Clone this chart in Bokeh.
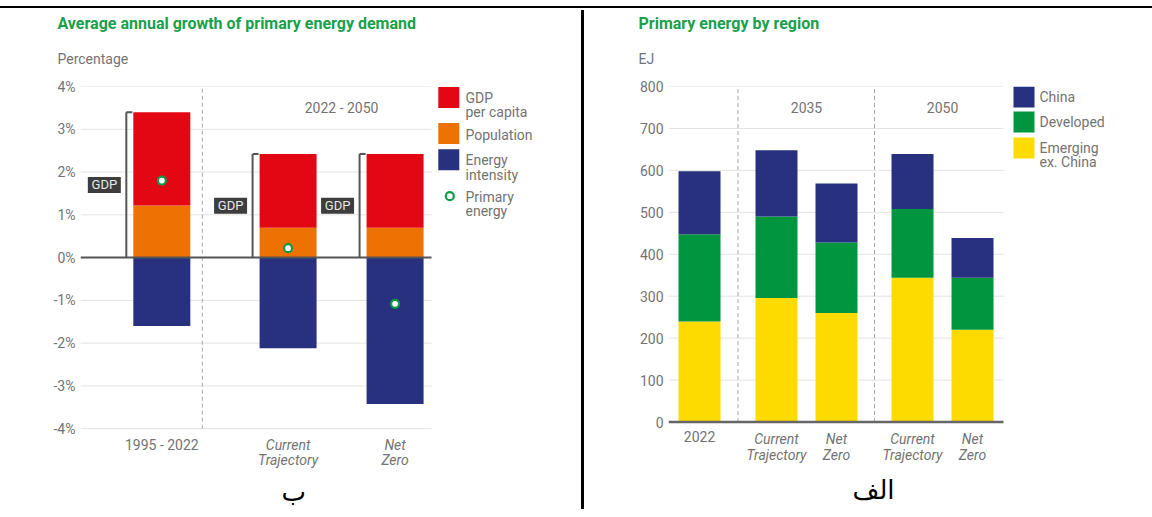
from bokeh.plotting import figure
from bokeh.models import Range1d, FixedTicker, Title, Div, Spacer
from bokeh.layouts import row, column
from bokeh.embed import file_html
from bokeh.resources import INLINE
from bokeh.core.properties import value

# ---------------- data ----------------
growth_periods = ["1995 - 2022", "Current\nTrajectory", "Net\nZero"]
gdp_per_capita = [2.18, 1.72, 1.72]
population = [1.22, 0.70, 0.70]
energy_intensity = [-1.60, -2.12, -3.42]
primary_energy = [1.80, 0.22, -1.08]
growth_ticks = [-4, -3, -2, -1, 0, 1, 2, 3, 4]
growth_tick_labels = ["-4%", "-3%", "-2%", "-1%", "0%", "1%", "2%", "3%", "4%"]
projection_label = "2022 - 2050"
growth_legend = ["GDP\nper capita", "Population", "Energy\nintensity", "Primary\nenergy"]

region_cases = ["2022", "Current\nTrajectory", "Net\nZero", "Current\nTrajectory", "Net\nZero"]
region_years = ["2035", "2050"]
emerging_ex_china = [240, 296, 260, 344, 220]
developed = [208, 194, 168, 164, 124]
china = [150, 158, 141, 131, 95]
region_ticks = [0, 100, 200, 300, 400, 500, 600, 700, 800]
region_legend = ["China", "Developed", "Emerging\nex. China"]

# ---------------- styles ----------------
RED = "#e30613"
ORANGE = "#ee7203"
NAVY = "#27317f"
GREEN = "#009640"
YELLOW = "#fedb00"
TITLE_GREEN = "#18a04a"
DOT_GREEN = "#0f9a47"
TXT = "#737373"
GRID = "#e3e3e3"
FONT = "Roboto"

def style_axes(p, ticks, labels, x_start, x_end):
    p.xaxis.visible = False
    p.xgrid.visible = False
    p.ygrid.visible = False
    p.segment(x0=[x_start] * len(ticks), y0=ticks, x1=[x_end] * len(ticks), y1=ticks,
              line_color=GRID, line_width=1, level="underlay")
    ax = p.yaxis[0]
    ax.ticker = FixedTicker(ticks=ticks)
    ax.major_label_overrides = {t: l for t, l in zip(ticks, labels)}
    ax.axis_line_color = None
    ax.major_tick_line_color = None
    ax.minor_tick_line_color = None
    ax.major_tick_in = 0
    ax.major_tick_out = 0
    ax.major_label_standoff = 5
    ax.major_label_text_font = FONT
    ax.major_label_text_font_size = "14px"
    ax.major_label_text_color = TXT
    p.outline_line_color = None
    p.background_fill_color = "white"
    p.border_fill_color = "white"

def add_titles(p, main, unit, offset, unit_standoff, main_standoff):
    p.add_layout(Title(text=unit, align="left", offset=offset, standoff=unit_standoff,
                       vertical_align="top",
                       text_font=FONT, text_font_size="14px", text_font_style="normal",
                       text_color=TXT), "above")
    p.add_layout(Title(text=main, align="left", offset=offset, standoff=main_standoff,
                       vertical_align="bottom",
                       text_font=FONT, text_font_size="16px", text_font_style="bold",
                       text_color=TITLE_GREEN), "above")

def add_caption(p, text, offset, standoff):
    p.add_layout(Title(text=text, align="left", offset=offset, standoff=standoff,
                       vertical_align="bottom",
                       text_font="DejaVu Sans", text_font_size="26px", text_font_style="normal",
                       text_color="black"), "below")

def add_labels(p, xs, texts, y, y_off):
    p.text(x=xs[:1], y=[y], text=texts[:1], y_offset=y_off, text_align="center",
           text_baseline="top", text_font=value(FONT), text_font_size="14px", text_color=TXT,
           text_line_height=0.98)
    p.text(x=xs[1:], y=[y] * (len(xs) - 1), text=texts[1:], y_offset=y_off, text_align="center",
           text_baseline="top", text_font=value(FONT), text_font_size="14px", text_color=TXT,
           text_font_style="italic", text_line_height=0.98)

def legend_text(p, xs, ys, texts):
    p.text(x=xs, y=ys, text=texts, text_align="left", text_baseline="top",
           text_font=value(FONT), text_font_size="14px", text_color=TXT, text_line_height=0.89)

# ---------------- left chart ----------------
L_FW, L_FH = 480, 385
L_UNIT = 107.0
L_PX_Y = 42.78           # pixels per percentage point
left_pos = [0.0, 1.18, 2.18]
lx0 = -0.76
lx1 = lx0 + L_FW / L_UNIT
l_plot_end = lx0 + 351 / L_UNIT
bw_l = 57 / L_UNIT
ltop = 4.0

def lpx(px):   # horizontal pixel offset from frame left -> data
    return lx0 + px / L_UNIT

def lpy(py):   # vertical pixel offset from frame top -> data
    return ltop - py / L_PX_Y

pl = figure(frame_width=L_FW, frame_height=L_FH,
            x_range=Range1d(lx0, lx1), y_range=Range1d(-5.0, ltop),
            min_border_left=72, min_border_right=21, min_border_top=76, min_border_bottom=38,
            output_backend="svg", toolbar_location=None)
style_axes(pl, growth_ticks, growth_tick_labels, lx0, l_plot_end)

gdp_total = [p + g for p, g in zip(population, gdp_per_capita)]
pl.vbar(x=left_pos, width=bw_l, bottom=0, top=population, fill_color=ORANGE, line_color=None)
pl.vbar(x=left_pos, width=bw_l, bottom=population, top=gdp_total, fill_color=RED, line_color=None)
pl.vbar(x=left_pos, width=bw_l, bottom=energy_intensity, top=0, fill_color=NAVY, line_color=None)

sep_l = left_pos[0] + bw_l / 2 + 12 / L_UNIT
pl.segment(x0=[sep_l], y0=[-4], x1=[sep_l], y1=[4], line_color="#a8a8a8", line_width=1, line_dash="4 3")

br_x = [x - bw_l / 2 - 7 / L_UNIT for x in left_pos]
tick_len = 6 / L_UNIT
pl.segment(x0=br_x, y0=[0] * 3, x1=br_x, y1=gdp_total, line_color="#555555", line_width=2)
pl.segment(x0=br_x, y0=gdp_total, x1=[b + tick_len for b in br_x], y1=gdp_total, line_color="#555555", line_width=2)
box_x = [b - 22 / L_UNIT for b in br_x]
box_y = [t / 2 for t in gdp_total]
pl.rect(x=box_x, y=box_y, width=33, height=16, width_units="screen", height_units="screen",
        fill_color="#3d3d3d", line_color=None)
pl.text(x=box_x, y=box_y, text=["GDP"] * 3, text_align="center", text_baseline="middle",
        text_font=value(FONT), text_font_size="13px", text_color="#e8e8e8")

pl.segment(x0=[lx0], y0=[0], x1=[l_plot_end], y1=[0], line_color="#555555", line_width=2)

pl.scatter(x=left_pos, y=primary_energy, size=8, marker="circle",
           fill_color="white", line_color=DOT_GREEN, line_width=2.2)

add_labels(pl, left_pos, growth_periods, -4, 8)
pl.text(x=[sum(left_pos[1:]) / 2], y=[3.5], text=[projection_label], text_align="center",
        text_baseline="middle", text_font=value(FONT), text_font_size="14px", text_color=TXT)

# legend (squares + circle + labels)
lsq_x = lpx(368.3)
pl.rect(x=[lsq_x] * 3, y=[lpy(11.0), lpy(47.0), lpy(73.3)], width=21, height=21,
        width_units="screen", height_units="screen",
        fill_color=[RED, ORANGE, NAVY], line_color=None)
pl.scatter(x=[lpx(369.3)], y=[lpy(109.7)], size=8, marker="circle",
           fill_color="white", line_color=DOT_GREEN, line_width=2.2)
legend_text(pl, [lpx(385)] * 4, [lpy(3.7), lpy(40.3), lpy(66.0), lpy(102.7)], growth_legend)

add_titles(pl, "Average annual growth of primary energy demand", "Percentage", -23, 36, 0)
add_caption(pl, "ب", 201, 6)

# ---------------- right chart ----------------
R_FW, R_FH = 462, 380
R_UNIT = 60.0
R_PX_Y = 380 / 906.0
right_pos = [0.0, 1.283, 2.283, 3.55, 4.55]
rx0 = -0.517
rx1 = rx0 + R_FW / R_UNIT
r_plot_end = rx0 + 335 / R_UNIT
bw_r = 42 / R_UNIT
rtop = 800

def rpx(px):
    return rx0 + px / R_UNIT

def rpy(py):
    return rtop - py / R_PX_Y

pr = figure(frame_width=R_FW, frame_height=R_FH,
            x_range=Range1d(rx0, rx1), y_range=Range1d(-106, rtop),
            min_border_left=84, min_border_right=14, min_border_top=75, min_border_bottom=44,
            output_backend="svg", toolbar_location=None)
style_axes(pr, region_ticks, [str(t) for t in region_ticks], rx0, r_plot_end)

dev_top = [e + d for e, d in zip(emerging_ex_china, developed)]
chi_top = [t + c for t, c in zip(dev_top, china)]
pr.vbar(x=right_pos, width=bw_r, bottom=0, top=emerging_ex_china, fill_color=YELLOW, line_color=None)
pr.vbar(x=right_pos, width=bw_r, bottom=emerging_ex_china, top=dev_top, fill_color=GREEN, line_color=None)
pr.vbar(x=right_pos, width=bw_r, bottom=dev_top, top=chi_top, fill_color=NAVY, line_color=None)

seps_r = [(right_pos[0] + right_pos[1]) / 2, (right_pos[2] + right_pos[3]) / 2]
pr.segment(x0=seps_r, y0=[0, 0], x1=seps_r, y1=[800, 800], line_color="#a8a8a8", line_width=1, line_dash="4 3")
pr.segment(x0=[rx0], y0=[0], x1=[r_plot_end], y1=[0], line_color="#666666", line_width=2.5)

add_labels(pr, right_pos, region_cases, 0, 9)
year_x = [(right_pos[1] + right_pos[2]) / 2, (right_pos[3] + right_pos[4]) / 2]
pr.text(x=year_x, y=[750, 750], text=region_years, text_align="center", text_baseline="middle",
        text_font=value(FONT), text_font_size="14px", text_color=TXT)

rsq_x = rpx(355.5)
pr.rect(x=[rsq_x] * 3, y=[rpy(10.5), rpy(35.5), rpy(61.5)], width=21, height=21,
        width_units="screen", height_units="screen",
        fill_color=[NAVY, GREEN, YELLOW], line_color=None)
legend_text(pr, [rpx(371)] * 3, [rpy(2.0), rpy(27.0), rpy(53.0)], region_legend)

add_titles(pr, "Primary energy by region", "EJ", -30, 36, 0)
add_caption(pr, "الف", 184, 12)

# ---------------- page layout ----------------
top_line = Div(text="", width=1152, height=2, margin=0, styles={"background-color": "black"})
v_line = Div(text="", width=3, height=499, margin=0, styles={"background-color": "black"})
layout = column(Spacer(width=1152, height=6),
                top_line,
                Spacer(width=1152, height=2),
                row(Spacer(width=8, height=499), pl, v_line, pr))

open("out.html", "w").write(file_html(layout, INLINE))
